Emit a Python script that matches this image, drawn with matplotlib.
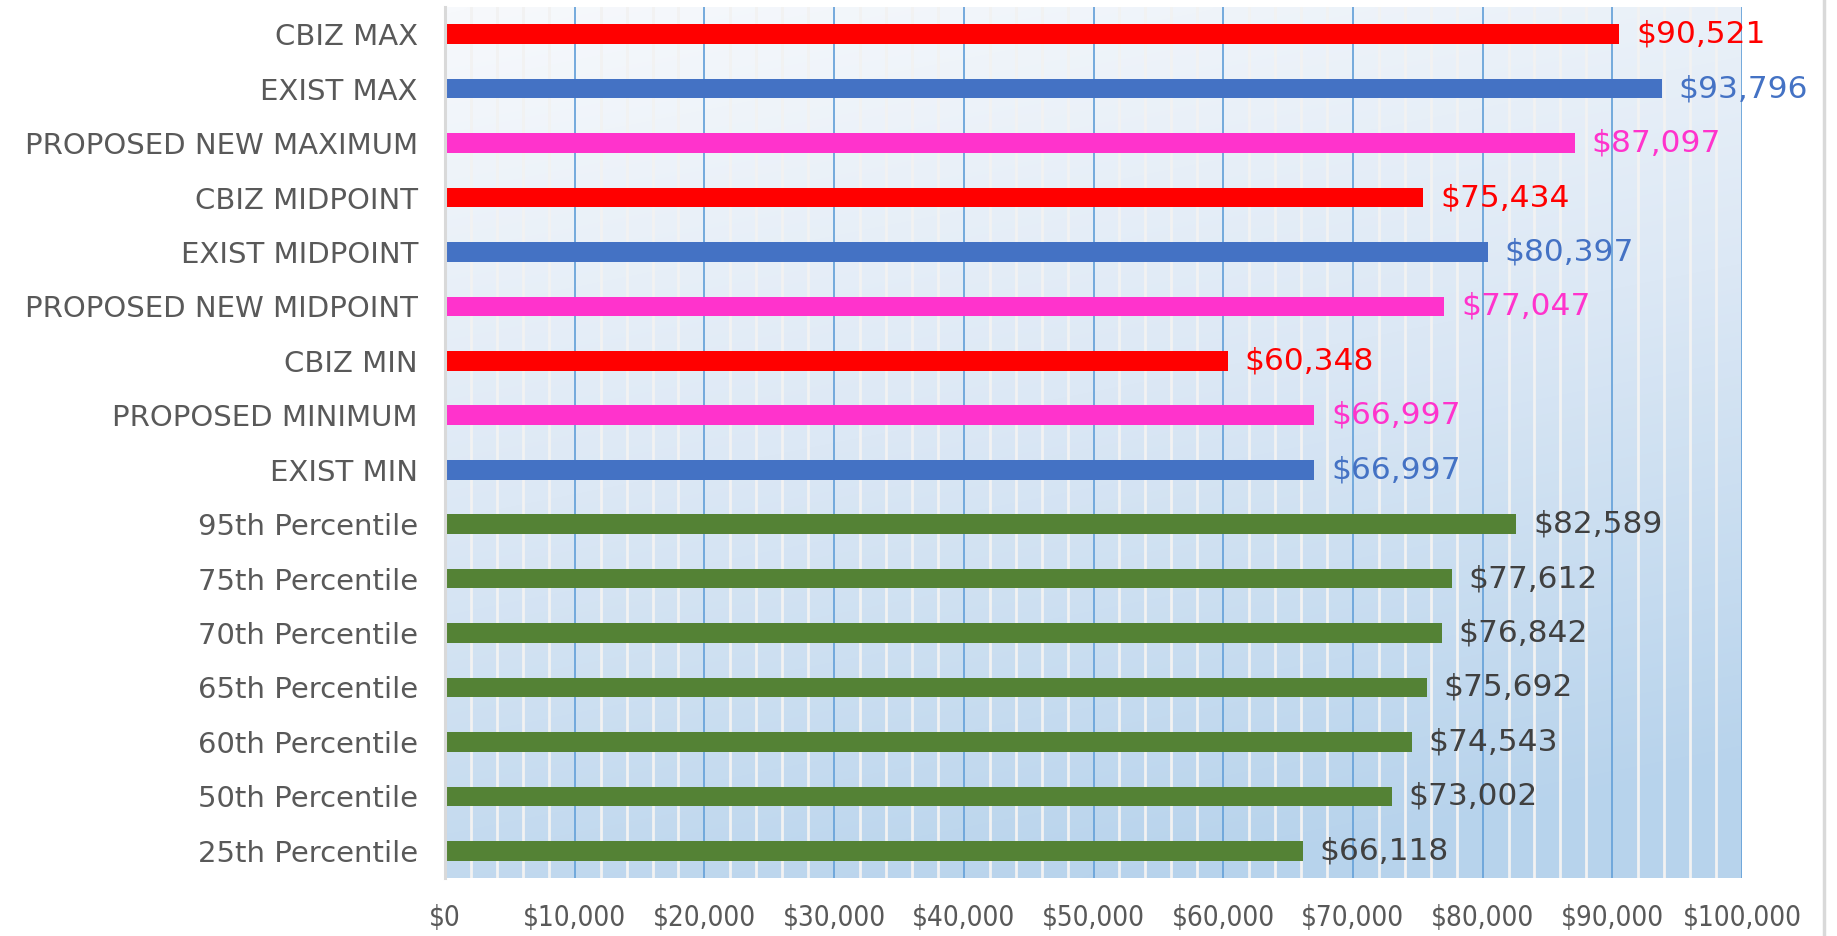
import matplotlib
matplotlib.use("Agg")
import matplotlib.pyplot as plt
import numpy as np
from matplotlib.colors import LinearSegmentedColormap
from matplotlib.lines import Line2D

categories = [
    "CBIZ MAX", "EXIST MAX", "PROPOSED NEW MAXIMUM", "CBIZ MIDPOINT",
    "EXIST MIDPOINT", "PROPOSED NEW MIDPOINT", "CBIZ MIN", "PROPOSED MINIMUM",
    "EXIST MIN", "95th Percentile", "75th Percentile", "70th Percentile",
    "65th Percentile", "60th Percentile", "50th Percentile", "25th Percentile",
]
values = [90521, 93796, 87097, 75434, 80397, 77047, 60348, 66997,
          66997, 82589, 77612, 76842, 75692, 74543, 73002, 66118]
groups = ["cbiz", "exist", "proposed", "cbiz", "exist", "proposed", "cbiz",
          "proposed", "exist", "pct", "pct", "pct", "pct", "pct", "pct", "pct"]
tick_values = [0, 10000, 20000, 30000, 40000, 50000, 60000, 70000, 80000, 90000, 100000]

bar_colors = {"cbiz": "#FF0000", "exist": "#4472C4", "proposed": "#FF33CC", "pct": "#548235"}
label_colors = {"cbiz": "#FF0000", "exist": "#4472C4", "proposed": "#FF33CC", "pct": "#404040"}

W, H = 1837, 936
fig = plt.figure(figsize=(W / 100, H / 100), dpi=100)
ax = fig.add_axes([445 / W, 1 - 878 / H, (1742 - 445) / W, (878 - 7) / H])

# gradient background
ny, nx = 200, 200
yy, xx = np.mgrid[0:1:ny * 1j, 0:1:nx * 1j]
t = np.clip(0.85 * yy + 0.25 * xx, 0, 1)
cmap = LinearSegmentedColormap.from_list("bg", ["#F7F9FC", "#DCE8F5", "#B7D3EC"])
ax.imshow(t, cmap=cmap, extent=[0, 1, 0, 1], transform=ax.transAxes,
          aspect="auto", origin="upper", zorder=0, interpolation="bicubic")

n = len(categories)
ypos = np.arange(n)[::-1]

ax.set_xlim(0, 100000)
ax.set_ylim(-0.5, n - 0.5)

# gridlines
for v in range(2000, 100001, 2000):
    if v % 10000 == 0:
        ax.axvline(v, color="#6AA4DA", lw=1.3, zorder=1)
    else:
        ax.axvline(v, color="#F2F2F2", lw=2.0, zorder=1)

ax.barh(ypos, values, height=0.36, color=[bar_colors[g] for g in groups], zorder=3)

for y, v, g in zip(ypos, values, groups):
    ax.annotate(f"${v:,.0f}", xy=(v, y), xytext=(17, 0), textcoords="offset pixels",
                ha="left", va="center", fontsize=22.5, color=label_colors[g],
                family=["DejaVu Sans"], zorder=4)

ax.set_yticks(ypos)
ax.set_yticklabels(categories, fontsize=21, color="#595959", family=["DejaVu Sans"])
ax.set_xticks(tick_values)
ax.set_xticklabels([f"${v:,.0f}" for v in tick_values], fontsize=20, color="#595959",
                   family=["DejaVu Sans"], fontstretch="condensed")
ax.tick_params(axis="both", length=0)
ax.tick_params(axis="y", pad=19.5)
ax.tick_params(axis="x", pad=19)

for s in ["top", "right", "bottom"]:
    ax.spines[s].set_visible(False)
ax.spines["left"].set_color("#D9D9D9")
ax.spines["left"].set_linewidth(2.2)
ax.spines["left"].set_zorder(5)

fig.add_artist(Line2D([1824 / W, 1824 / W], [0, 1], color="#D9D9D9", lw=2.5,
                      transform=fig.transFigure))

fig.savefig("out.png", dpi=100)
